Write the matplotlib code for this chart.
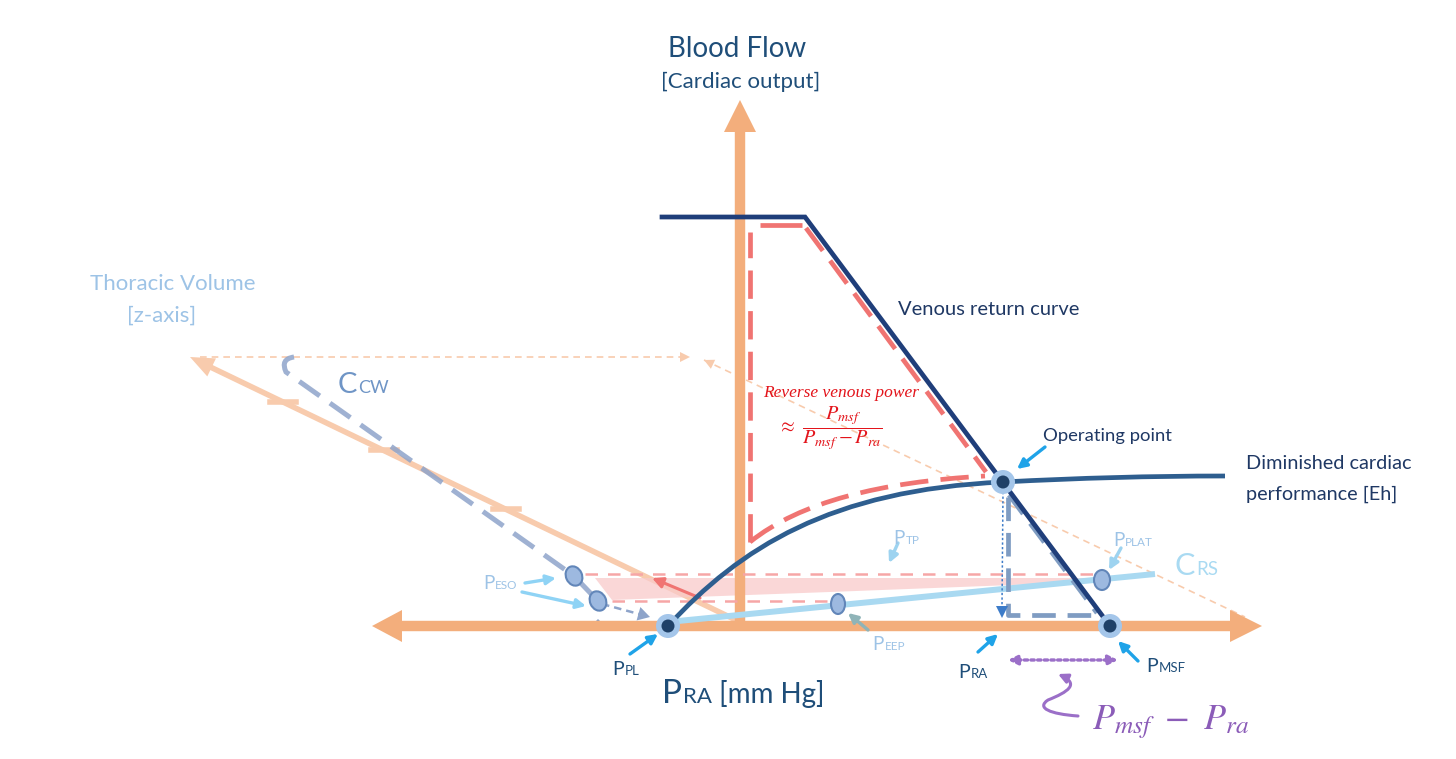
import matplotlib.pyplot as plt
from matplotlib.patches import Polygon, Circle, Ellipse, PathPatch, FancyArrowPatch
from matplotlib.path import Path

plt.rcParams['font.family'] = ['Lato', 'DejaVu Sans']
plt.rcParams['mathtext.fontset'] = 'stix'

# diagram geometry (pixel units, y grows downward)
x_axis_ends = [372, 1262]
x_axis_level = 626
y_axis_x = 740
y_axis_top = 100
z_axis_start = (740, 622)
z_axis_tip = (190, 357)
z_tick_x = [283, 384, 506]

venous_return_x = [662, 805, 1110]
venous_return_y = [217, 217, 626]

# cardiac function curve (bezier nodes)
cardiac_nodes = [(668, 626), (740, 548), (830, 490), (1003, 482),
                 (1080, 478), (1150, 476), (1225, 476)]

# reverse venous power outline (red dashed)
power_x = [750, 750]
power_y = [542, 232]
power_top_x = [760, 802]
power_top_y = [225, 225]
power_diag_x = [806, 986]
power_diag_y = [228, 472]
power_curve = [(750, 542), (800, 502), (880, 482), (985, 476)]

p_pl = (668, 626)
operating_point = (1003, 482)
p_msf = (1110, 626)

crs_x = [668, 1155]
crs_y = [622, 574]

ccw_nodes = [(294, 357), (280, 359), (286, 372), (574, 576), (598, 601)]
ccw_tail_x = [602, 650]
ccw_tail_y = [604, 617]

eso_points = [(574, 576), (598, 601)]
eep_point = (838, 604)
plat_point = (1102, 580)

tp_line_y = 574
tp_line_x = [585, 1100]
pl_line_y = 601
pl_line_x = [612, 828]
tp_band = [(595, 578), (1090, 578), (1090, 582), (830, 592), (612, 600)]

proj_h_x = [200, 690]
proj_h_y = 357
proj_d = [(704, 360), (1245, 617)]

pra_drop_x = [1008, 1008, 1095]
pra_drop_y = [497, 615, 615]
pra_diag_x = [1009, 1097]
pra_diag_y = [495, 613]

orange = '#F3AE7C'
orange_light = '#F8CBAD'
navy = '#1F3E7A'
steel = '#2E5E8F'
red = '#F07472'
sky = '#A9D9F1'
pale_blue = '#9DC3E6'
dark_text = '#1F4E79'
pointer = '#1FA3E8'
purple = '#8B5CB8'

fig = plt.figure(figsize=(14.56, 7.59), dpi=100)
ax = fig.add_axes([0, 0, 1, 1])
ax.set_xlim(0, 1456)
ax.set_ylim(759, 0)
ax.axis('off')


def head(tip, dx, dy, length, half, color, alpha=1.0, z=3):
    # triangle arrow head pointing along (dx, dy)
    bx, by = tip[0] - dx * length, tip[1] - dy * length
    px, py = -dy * half, dx * half
    ax.add_patch(Polygon([tip, (bx + px, by + py), (bx - px, by - py)],
                         closed=True, color=color, alpha=alpha, lw=0, zorder=z))


def arrow(tail, tip, color, lw=2.2, scale=14, z=8, ls='-'):
    ax.annotate('', xy=tip, xytext=tail,
                arrowprops=dict(arrowstyle='-|>', color=color, lw=lw, ls=ls,
                                mutation_scale=scale, shrinkA=0, shrinkB=0),
                zorder=z)


# z-axis (thoracic volume)
ax.plot([z_axis_start[0], z_axis_tip[0] + 12], [z_axis_start[1], z_axis_tip[1] + 6],
        color=orange_light, lw=4, solid_capstyle='butt', zorder=2)
zdx = z_axis_tip[0] - z_axis_start[0]
zdy = z_axis_tip[1] - z_axis_start[1]
zl = (zdx ** 2 + zdy ** 2) ** 0.5
head(z_axis_tip, zdx / zl, zdy / zl, 24, 10, orange_light, z=2)
for tx in z_tick_x:
    ty = z_axis_start[1] + (tx - z_axis_start[0]) * zdy / zdx
    ax.plot([tx - 13, tx + 13], [ty, ty], color=orange_light, lw=4, zorder=2)

# projection lines
ax.plot(proj_h_x, [proj_h_y, proj_h_y], color=orange_light, lw=1.2, ls=(0, (4, 3)), zorder=1)
head((proj_h_x[1], proj_h_y), 1, 0, 10, 5, orange_light, z=1)
ax.plot([p[0] for p in proj_d], [p[1] for p in proj_d], color=orange_light, lw=1.2,
        ls=(0, (4, 3)), zorder=1)
pdx = proj_d[0][0] - proj_d[1][0]
pdy = proj_d[0][1] - proj_d[1][1]
pl = (pdx ** 2 + pdy ** 2) ** 0.5
head(proj_d[0], pdx / pl, pdy / pl, 10, 5, orange_light, z=1)

# pressure axis and flow axis
ax.plot([x_axis_ends[0] + 20, x_axis_ends[1] - 20], [x_axis_level] * 2,
        color=orange, lw=7.5, solid_capstyle='butt', zorder=3)
head((x_axis_ends[1], x_axis_level), 1, 0, 32, 16, orange)
head((x_axis_ends[0], x_axis_level), -1, 0, 30, 16, orange)
ax.plot([y_axis_x, y_axis_x], [x_axis_level, y_axis_top + 25],
        color=orange, lw=7.5, solid_capstyle='butt', zorder=3)
head((y_axis_x, y_axis_top), 0, -1, 32, 16, orange)

# transpulmonary band
ax.add_patch(Polygon(tp_band, closed=True, color='#F9CACA', alpha=0.75, lw=0, zorder=2))
ax.plot(tp_line_x, [tp_line_y] * 2, color='#F6A6A6', lw=1.8, ls=(0, (5, 4)), zorder=3)
ax.plot(pl_line_x, [pl_line_y] * 2, color='#F6A6A6', lw=1.8, ls=(0, (5, 4)), zorder=3)
arrow((700, 598), (652, 578), red, lw=2.2, scale=16, z=4)

# respiratory system compliance line
ax.plot(crs_x, crs_y, color=sky, lw=4.3, solid_capstyle='butt', zorder=4)

# chest wall compliance (dashed)
ccw_path = Path(ccw_nodes, [Path.MOVETO, Path.CURVE3, Path.CURVE3, Path.LINETO, Path.LINETO])
ax.add_patch(PathPatch(ccw_path, fill=False, ec='#8EA4CA', lw=3.6, alpha=0.85,
                       ls=(0, (5, 2.5)), capstyle='butt', zorder=4))
ax.plot(ccw_tail_x, ccw_tail_y, color='#8EA4CA', lw=1.8, ls=(0, (3, 2)), zorder=4)
head((ccw_tail_x[1], ccw_tail_y[1]), 0.96, 0.27, 12, 7, '#8EA4CA', z=4)
head((598, 619), 0, -1, 7, 7, '#8EA4CA', z=2)

# venous return curve
ax.plot(venous_return_x, venous_return_y, color=navy, lw=3.4, solid_joinstyle='miter', zorder=6)

# cardiac function curve
cardiac_path = Path(cardiac_nodes, [Path.MOVETO] + [Path.CURVE4] * 6)
ax.add_patch(PathPatch(cardiac_path, fill=False, ec=steel, lw=3.4, zorder=6))

# reverse venous power outline
dash = (0, (6, 2.6))
ax.plot(power_x, power_y, color=red, lw=3.4, ls=dash, solid_capstyle='butt', zorder=5)
ax.plot(power_top_x, power_top_y, color=red, lw=3.4, solid_capstyle='butt', zorder=5)
ax.plot(power_diag_x, power_diag_y, color=red, lw=3.4, ls=dash, zorder=5)
power_path = Path(power_curve, [Path.MOVETO, Path.CURVE4, Path.CURVE4, Path.CURVE4])
ax.add_patch(PathPatch(power_path, fill=False, ec=red, lw=3.4, ls=dash, zorder=5))

# right atrial pressure drop (grey dashed)
ax.plot(pra_drop_x, pra_drop_y, color='#7F9CC2', lw=3.4, ls=(0, (5, 2.5)), zorder=5)
ax.plot(pra_diag_x, pra_diag_y, color='#7F9CC2', lw=3.4, ls=(0, (5, 2.5)), zorder=5)
ax.plot([operating_point[0], operating_point[0] - 1], [operating_point[1] + 10, 606],
        color='#3D7CC9', lw=1.1, ls=(0, (1.5, 1.5)), zorder=7)
head((operating_point[0] - 1, 618), 0, 1, 12, 6, '#3D7CC9', z=7)

# marker ellipses
for ex, ey in eso_points:
    ax.add_patch(Ellipse((ex, ey), 16, 20, angle=-25, fc='#9DB9E0', ec='#6286B9', lw=1.5, zorder=7))
ax.add_patch(Ellipse(eep_point, 14, 20, fc='#9DB9E0', ec='#6286B9', lw=1.5, zorder=7))
ax.add_patch(Ellipse(plat_point, 16, 20, fc='#9DB9E0', ec='#6286B9', lw=1.5, zorder=7))

# key points
for px, py in [p_pl, operating_point, p_msf]:
    ax.add_patch(Circle((px, py), 12, fc='#A4C6EA', ec='none', zorder=9))
    ax.add_patch(Circle((px, py), 6.5, fc='#1F4168', ec='none', zorder=10))

# pointers
arrow((1045, 447), (1017, 469), pointer, lw=2.4)
arrow((630, 654), (658, 634), pointer, lw=2.4)
arrow((978, 652), (998, 634), pointer, lw=2.4)
arrow((1138, 661), (1118, 641), pointer, lw=2.4)
arrow((525, 583), (556, 578), '#8FD3F5', lw=2.4)
arrow((522, 592), (586, 606), '#8FD3F5', lw=2.4)
arrow((898, 543), (889, 563), '#9DD3F0', lw=2.4)
arrow((1121, 548), (1109, 570), '#9DD3F0', lw=2.4)
arrow((868, 630), (848, 613), '#8FB4B8', lw=2.4)

# purple pressure gradient
ax.annotate('', xy=(1008, 660), xytext=(1118, 660),
            arrowprops=dict(arrowstyle='<|-|>', color='#9B6FC8', lw=2.4, ls=(0, (1, 1)),
                            mutation_scale=14, shrinkA=0, shrinkB=0), zorder=8)
squiggle = Path([(1078, 716), (1050, 714), (1036, 708), (1048, 700),
                 (1068, 692), (1080, 684), (1058, 674)],
                [Path.MOVETO] + [Path.CURVE4] * 6)
ax.add_patch(FancyArrowPatch(path=squiggle, arrowstyle='-|>', color='#9B6FC8', lw=2.2,
                             mutation_scale=14, zorder=8))

renderer = fig.canvas.get_renderer()
inv = ax.transData.inverted()


def label(x, y, big, small, color, big_size, small_size, tail=None, tail_size=None):
    t = ax.text(x, y, big, color=color, fontsize=big_size, va='baseline', ha='left', zorder=11)
    bb = t.get_window_extent(renderer)
    x2 = inv.transform((bb.x1, bb.y0))[0]
    t2 = ax.text(x2 + 1, y, small, color=color, fontsize=small_size, va='baseline',
                 ha='left', zorder=11)
    if tail:
        bb2 = t2.get_window_extent(renderer)
        x3 = inv.transform((bb2.x1, bb2.y0))[0]
        ax.text(x3, y, tail, color=color, fontsize=tail_size, va='baseline', ha='left', zorder=11)


ax.text(737, 57, 'Blood Flow', color=dark_text, fontsize=20, ha='center', va='baseline')
ax.text(741, 88, '[Cardiac output]', color=dark_text, fontsize=16, ha='center', va='baseline')
ax.text(173, 290, 'Thoracic Volume', color=pale_blue, fontsize=16, ha='center', va='baseline')
ax.text(162, 322, '[z-axis]', color=pale_blue, fontsize=16, ha='center', va='baseline')
ax.text(898, 315, 'Venous return curve', color='#1F3864', fontsize=14.5, va='baseline')
ax.text(1043, 441, 'Operating point', color='#1F3864', fontsize=13.3, va='baseline')
ax.text(1246, 469, 'Diminished cardiac', color='#1F3864', fontsize=14.3, va='baseline')
ax.text(1246, 500, 'performance [Eh]', color='#1F3864', fontsize=14.3, va='baseline')
ax.text(841, 397, 'Reverse venous power', color='#E3141B', fontsize=12.5,
        family='Liberation Serif', style='italic', ha='center', va='baseline', zorder=11)
ax.text(830, 428, r'$\approx\ \dfrac{P_{msf}}{P_{msf}-P_{ra}}$', color='#E3141B', fontsize=14.5,
        ha='center', va='center', zorder=11)
ax.text(1092, 729, r'$P_{msf}\ -\ P_{ra}$', color=purple, fontsize=26, ha='left', va='baseline')

label(338, 393, 'C', 'CW', '#6F95C6', 21, 13)
label(1175, 575, 'C', 'RS', '#A9DAF2', 22, 13.5)
label(483, 589, 'P', 'ESO', pale_blue, 13.5, 8.5)
label(893, 544, 'P', 'TP', pale_blue, 13.5, 8.5)
label(1113, 546, 'P', 'PLAT', pale_blue, 13.5, 8.5)
label(872, 650, 'P', 'EEP', pale_blue, 13.5, 8.5)
label(612, 675, 'P', 'PL', dark_text, 14, 9.5)
label(958, 678, 'P', 'RA', dark_text, 14, 9.5)
label(1146, 672, 'P', 'MSF', dark_text, 14, 9.5)
label(662, 703, 'P', 'RA', dark_text, 24, 16, ' [mm Hg]', 20)

fig.savefig('out.png', dpi=100)
